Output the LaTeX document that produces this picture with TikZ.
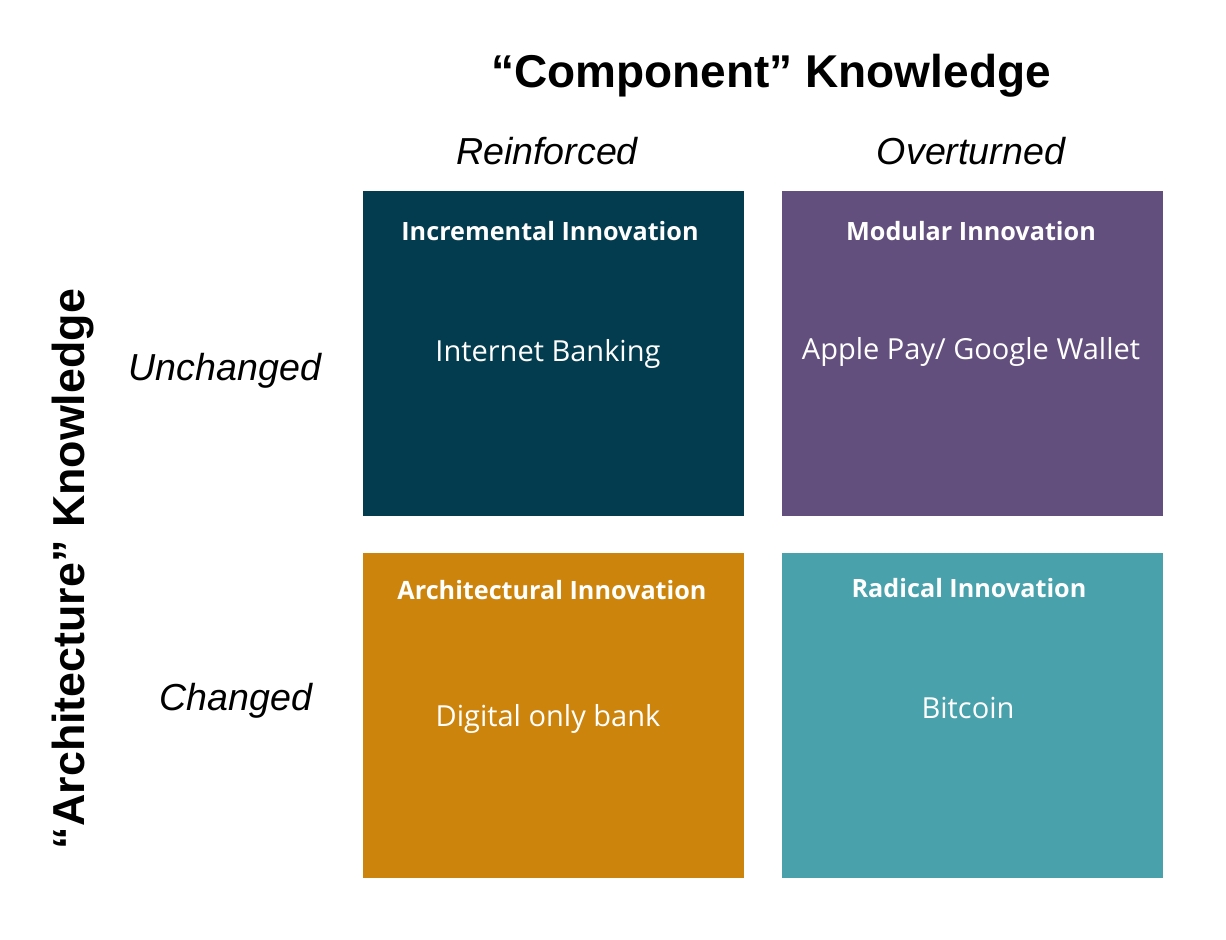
\documentclass[tikz,border=0pt]{standalone}
\usepackage{fontspec}
\setmainfont{Liberation Sans}
\newfontfamily\boxfont{Open Sans}
\usetikzlibrary{positioning}

\definecolor{incblue}{HTML}{033C4E}
\definecolor{modpurple}{HTML}{634F7D}
\definecolor{archorange}{HTML}{CC840C}
\definecolor{radteal}{HTML}{49A1AB}

\tikzset{
	quad/.style={minimum width=190.5pt, minimum height=162.5pt, inner sep=0pt},
	qhead/.style={text=white, anchor=base, font=\boxfont\bfseries\fontsize{12.6}{15}\selectfont},
	sample/.style={text=white, anchor=base, font=\boxfont\fontsize{14.5}{17}\selectfont},
	axislabel/.style={anchor=base, font=\bfseries\fontsize{23}{27}\selectfont},
	levellabel/.style={anchor=base, font=\itshape\fontsize{18.8}{22}\selectfont},
}

\begin{document}
\begin{tikzpicture}[x=0.5pt, y=-0.5pt, node distance=18pt and 18.5pt]
	\useasboundingbox (0,0) rectangle (1226,940);

	\node [quad, fill=incblue] (inc) at (553.5,353.5) {};
	\node [quad, fill=modpurple, right=of inc] (mod) {};
	\node [quad, fill=archorange, below=of inc] (arch) {};
	\node [quad, fill=radteal, below=of mod] (rad) {};

	\node [axislabel] (comp) at (771,88) {“Component” Knowledge};
	\node [axislabel, rotate=90, font=\bfseries\fontsize{22.4}{27}\selectfont] (archk) at (84,569) {“Architecture” Knowledge};

	\node [levellabel] (reinf) at (547,165) {Reinforced};
	\node [levellabel] (overt) at (971,165) {Overturned};
	\node [levellabel] (unch) at (225,381) {Unchanged};
	\node [levellabel] (chgd) at (236,710) {Changed};

	\node [qhead] (inchead) at (550,241) {Incremental Innovation};
	\node [sample] (inctext) at (548,362) {Internet Banking};
	\node [qhead] (modhead) at (971,241) {Modular Innovation};
	\node [sample] (modtext) at (971,360) {Apple Pay/ Google Wallet};
	\node [qhead] (archhead) at (552,600) {Architectural Innovation};
	\node [sample] (archtext) at (548,726) {Digital only bank};
	\node [qhead] (radhead) at (969,597) {Radical Innovation};
	\node [sample] (radtext) at (968,718) {Bitcoin};
\end{tikzpicture}
\end{document}
